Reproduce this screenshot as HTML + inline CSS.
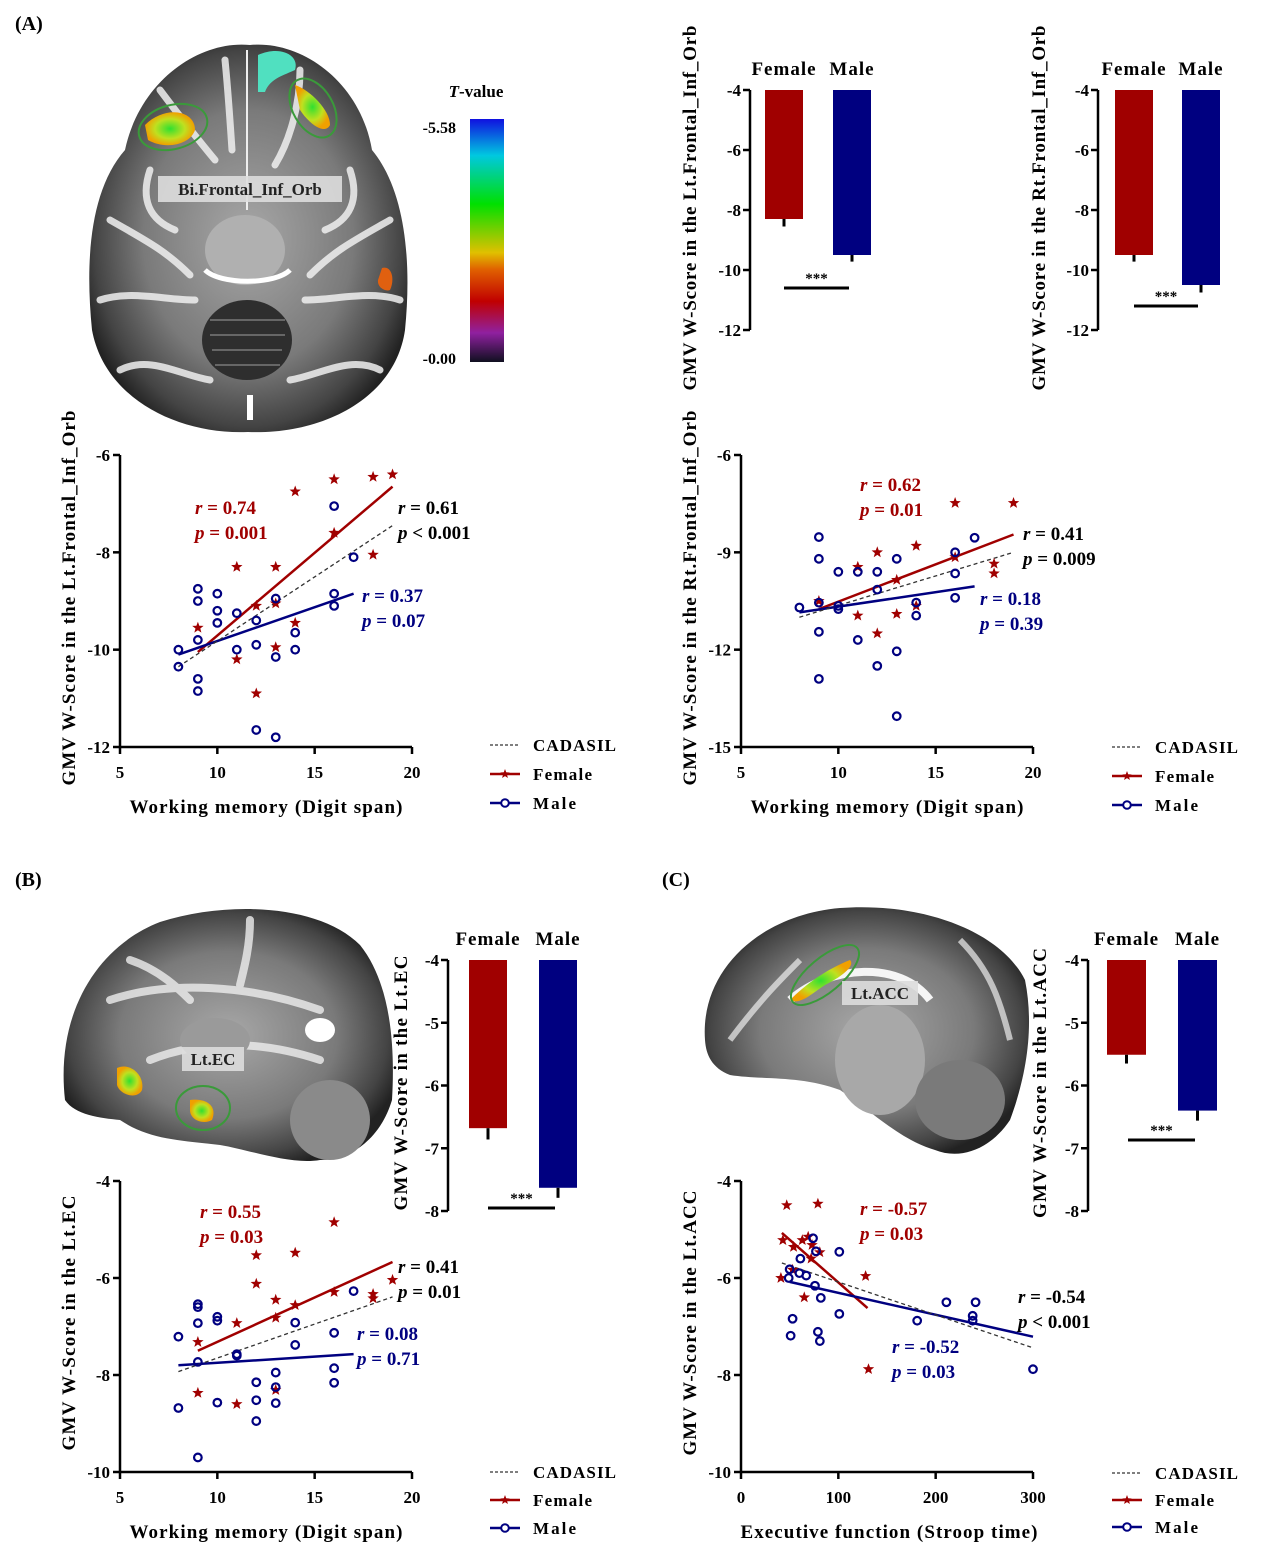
<!DOCTYPE html>
<html><head><meta charset="utf-8"><style>
html,body{margin:0;padding:0;background:#fff;}
svg{display:block;font-family:"Liberation Serif",serif;}
svg text{font-weight:bold;}
</style></head><body>
<svg id="fig" width="1265" height="1567" viewBox="0 0 1265 1567" xmlns="http://www.w3.org/2000/svg">
<defs>
<radialGradient id="brainG" cx="50%" cy="50%" r="55%"><stop offset="0" stop-color="#a8a8a8"/><stop offset="0.6" stop-color="#7a7a7a"/><stop offset="0.88" stop-color="#444"/><stop offset="1" stop-color="#222"/></radialGradient>
<linearGradient id="cbar" x1="0" y1="0" x2="0" y2="1"><stop offset="0" stop-color="#1010e0"/><stop offset="0.15" stop-color="#00c8e0"/><stop offset="0.35" stop-color="#00e000"/><stop offset="0.55" stop-color="#e0c000"/><stop offset="0.62" stop-color="#e06000"/><stop offset="0.75" stop-color="#c00000"/><stop offset="0.88" stop-color="#9020a0"/><stop offset="1" stop-color="#101020"/></linearGradient>
<radialGradient id="blob" cx="50%" cy="50%" r="50%"><stop offset="0" stop-color="#30e030"/><stop offset="0.6" stop-color="#c0e020"/><stop offset="1" stop-color="#f0a000"/></radialGradient>
</defs>
<g font-size="20">
<text x="15" y="30">(A)</text>
<text x="15" y="886">(B)</text>
<text x="662" y="886">(C)</text>
</g>
<!-- Axial brain -->
<g>
<path d="M250,45 C200,40 140,80 125,150 C90,190 85,260 92,330 C105,400 180,435 248,432 C320,435 395,400 405,330 C412,260 405,190 372,150 C360,80 300,40 250,45Z" fill="url(#brainG)"/>
<g fill="none" stroke="#f0f0f0" stroke-width="7" stroke-linecap="round" opacity="0.85">
<path d="M160,90 C175,110 190,130 215,160"/><path d="M300,70 C300,105 290,140 275,165"/><path d="M225,60 C228,90 230,120 232,150"/>
<path d="M110,220 C145,240 165,250 190,275"/><path d="M390,220 C355,240 335,250 310,275"/>
<path d="M100,300 C130,290 165,300 195,300"/><path d="M400,300 C370,290 335,300 305,300"/>
<path d="M120,370 C150,355 180,375 210,380"/><path d="M380,370 C350,355 320,375 290,380"/>
<path d="M150,170 C140,200 150,220 175,230"/><path d="M350,170 C360,200 350,220 325,230"/>
</g>
<line x1="247" y1="50" x2="247" y2="210" stroke="#eee" stroke-width="2"/>
<ellipse cx="245" cy="250" rx="40" ry="35" fill="#b0b0b0"/>
<path d="M205,270 C220,285 275,285 290,270" fill="none" stroke="#fff" stroke-width="5"/>
<ellipse cx="247" cy="340" rx="45" ry="40" fill="#2e2e2e"/>
<g stroke="#666" stroke-width="2" fill="none"><path d="M210,320 h75"/><path d="M210,335 h75"/><path d="M212,350 h70"/><path d="M215,365 h65"/></g>
<path d="M250,395 L250,420" stroke="#fff" stroke-width="6"/>
<path d="M145,125 C165,105 195,110 195,130 C190,145 165,150 148,140Z" fill="url(#blob)"/>
<path d="M258,55 C280,45 300,55 295,70 C285,75 270,78 265,92 L258,92Z" fill="#50e0c0"/>
<path d="M295,85 C310,90 330,110 330,125 C325,135 310,125 300,110Z" fill="url(#blob)"/>
<path d="M382,268 C392,265 395,280 390,290 C385,292 377,287 378,280Z" fill="#e06010"/>
<ellipse cx="173" cy="127" rx="35" ry="22" fill="none" stroke="#3a9a3a" stroke-width="2" transform="rotate(-15 173 127)"/>
<ellipse cx="313" cy="108" rx="20" ry="32" fill="none" stroke="#3a9a3a" stroke-width="2" transform="rotate(-30 313 108)"/>
<rect x="158" y="176" width="184" height="26" fill="#ddd" opacity="0.9"/>
<text x="250" y="195" text-anchor="middle" font-size="17" fill="#222">Bi.Frontal_Inf_Orb</text>
</g>
<g>
<rect x="470" y="119" width="34" height="243" fill="url(#cbar)"/>
<text x="476" y="97" font-size="17" text-anchor="middle"><tspan font-style="italic">T</tspan>-value</text>
<text x="456" y="133" font-size="16" text-anchor="end">-5.58</text>
<text x="456" y="364" font-size="16" text-anchor="end">-0.00</text>
</g>
<!-- Sagittal B -->
<g>
<path d="M65,1100 C55,1010 100,945 160,922 C230,900 320,905 360,945 C392,985 395,1050 392,1100 C380,1140 350,1160 320,1160 C290,1165 250,1150 220,1145 C180,1140 150,1140 120,1120 C100,1118 75,1115 65,1100Z" fill="url(#brainG)"/>
<ellipse cx="330" cy="1120" rx="40" ry="40" fill="#8a8a8a"/>
<g fill="none" stroke="#eee" stroke-width="8" stroke-linecap="round" opacity="0.8"><path d="M110,1000 C170,980 250,985 320,1010"/><path d="M150,1060 C200,1040 260,1040 320,1060"/><path d="M130,960 C160,970 180,990 190,1000"/><path d="M250,920 C250,945 245,965 240,985"/></g>
<ellipse cx="215" cy="1040" rx="35" ry="22" fill="#9a9a9a"/>
<ellipse cx="320" cy="1030" rx="15" ry="12" fill="#fff"/>
<path d="M117,1068 C130,1062 145,1075 142,1090 C137,1100 120,1095 117,1085Z" fill="url(#blob)"/>
<path d="M190,1100 C205,1098 218,1105 212,1120 C203,1125 190,1120 190,1110Z" fill="url(#blob)"/>
<ellipse cx="203" cy="1108" rx="27" ry="22" fill="none" stroke="#3a9a3a" stroke-width="2"/>
<rect x="182" y="1047" width="62" height="24" fill="#ddd" opacity="0.9"/>
<text x="213" y="1065" text-anchor="middle" font-size="17" fill="#222">Lt.EC</text>
</g>
<!-- Sagittal C -->
<g>
<path d="M705,1040 C700,970 760,915 840,908 C920,902 1000,930 1025,980 C1035,1030 1025,1080 1010,1120 C990,1150 960,1160 935,1150 C900,1140 870,1110 840,1090 C800,1075 760,1080 730,1075 C712,1068 706,1055 705,1040Z" fill="url(#brainG)"/>
<path d="M790,1000 C830,965 900,960 930,1000" fill="none" stroke="#f5f5f5" stroke-width="8"/>
<g fill="none" stroke="#eee" stroke-width="6" opacity="0.7"><path d="M730,1040 C760,1000 780,980 800,960"/><path d="M960,940 C990,970 1000,1000 1010,1040"/></g>
<ellipse cx="880" cy="1060" rx="45" ry="55" fill="#a8a8a8"/>
<ellipse cx="960" cy="1100" rx="45" ry="40" fill="#7a7a7a"/>
<path d="M790,1000 C805,985 825,970 850,960 C855,965 845,975 825,985 C810,995 800,1005 790,1000Z" fill="url(#blob)"/>
<ellipse cx="825" cy="975" rx="17" ry="42" fill="none" stroke="#3a9a3a" stroke-width="2" transform="rotate(50 825 975)"/>
<rect x="842" y="981" width="76" height="24" fill="#ddd" opacity="0.9"/>
<text x="880" y="999" text-anchor="middle" font-size="17" fill="#222">Lt.ACC</text>
</g>
<g id="charts"></g>
</svg>
<script>
// ===== Data =====
const groups = ["Female","Male"];
const barA1 = [-8.3,-9.5], errA1 = [0.25,0.22];
const barA2 = [-9.5,-10.5], errA2 = [0.22,0.25];
const barB = [-6.68,-7.63], errB = [0.18,0.16];
const barC = [-5.51,-6.4], errC = [0.14,0.16];

const s1FemX = [16,18,19,14,16,18,11,13,12,13,14,9,13,11,12];
const s1FemY = [-6.5,-6.45,-6.4,-6.75,-7.6,-8.05,-8.3,-8.3,-9.1,-9.05,-9.45,-9.55,-9.95,-10.2,-10.9];
const s1MalX = [16,17,9,9,10,10,10,11,12,13,16,16,14,14,9,8,8,11,12,13,9,9,12,13];
const s1MalY = [-7.05,-8.1,-8.75,-9.0,-8.85,-9.2,-9.45,-9.25,-9.4,-8.95,-8.85,-9.1,-9.65,-10.0,-9.8,-10.0,-10.35,-10.0,-9.9,-10.15,-10.6,-10.85,-11.65,-11.8];
const s1Lines = {fem:[9,-10.05,19,-6.65], mal:[8,-10.1,17,-8.85], all:[8,-10.35,19,-7.45]};

const s2FemX = [16,19,9,11,12,14,13,16,18,18,11,13,14,12];
const s2FemY = [-7.48,-7.48,-10.5,-9.45,-9.0,-8.8,-9.85,-9.15,-9.35,-9.65,-10.95,-10.9,-10.65,-11.5];
const s2MalX = [9,9,10,11,12,13,12,17,16,16,16,14,14,8,9,10,10,9,11,13,12,9,13];
const s2MalY = [-8.53,-9.2,-9.6,-9.6,-9.6,-9.2,-10.15,-8.55,-9.0,-9.65,-10.4,-10.55,-10.95,-10.7,-10.55,-10.65,-10.75,-11.45,-11.7,-12.05,-12.5,-12.9,-14.05];
const s2Lines = {fem:[9,-10.75,19,-8.45], mal:[8,-10.85,17,-10.05], all:[8,-11.0,19,-9.0]};

const s3FemX = [16,12,14,12,13,14,13,11,16,18,18,19,9,9,11,13];
const s3FemY = [-4.85,-5.53,-5.48,-6.12,-6.45,-6.56,-6.82,-6.93,-6.29,-6.33,-6.42,-6.04,-7.32,-8.37,-8.6,-8.31];
const s3MalX = [9,9,9,10,10,8,9,11,11,14,14,16,17,16,16,13,13,13,12,12,12,10,8,9];
const s3MalY = [-6.54,-6.6,-6.93,-6.8,-6.88,-7.21,-7.73,-7.57,-7.6,-6.92,-7.38,-7.13,-6.27,-7.86,-8.16,-7.95,-8.25,-8.58,-8.15,-8.52,-8.95,-8.57,-8.68,-9.7];
const s3Lines = {fem:[9,-7.5,19,-5.67], mal:[8,-7.8,17,-7.57], all:[8,-7.93,19,-6.39]};

const s4FemX = [47,79,43,54,63,69,73,81,72,53,41,128,65,131];
const s4FemY = [-4.5,-4.47,-5.22,-5.36,-5.22,-5.15,-5.32,-5.47,-5.6,-5.83,-6.0,-5.96,-6.4,-7.88];
const s4MalX = [74,77,101,61,50,60,67,49,76,82,101,53,51,79,81,181,211,241,238,238,300];
const s4MalY = [-5.18,-5.45,-5.46,-5.6,-5.82,-5.9,-5.95,-6.0,-6.16,-6.41,-6.74,-6.84,-7.19,-7.11,-7.3,-6.88,-6.5,-6.5,-6.78,-6.88,-7.88];
const s4Lines = {fem:[42,-5.07,130,-6.62], mal:[50,-6.08,300,-7.21], all:[42,-5.69,300,-7.44]};

const xTicksDigit = [5,10,15,20];
const xTicksStroop = [0,100,200,300];
const yTicks1 = [-6,-8,-10,-12];
const yTicks2 = [-6,-9,-12,-15];
const yTicks3 = [-4,-6,-8,-10];
const barTicksA = [-4,-6,-8,-10,-12];
const barTicksBC = [-4,-5,-6,-7,-8];

// ===== Drawing =====
const NS = "http://www.w3.org/2000/svg";
const root = document.getElementById("charts");
function mk(tag, attrs, parent, text){
  const e = document.createElementNS(NS, tag);
  for (const k in attrs) e.setAttribute(k, attrs[k]);
  if (text !== undefined) e.textContent = text;
  (parent||root).appendChild(e);
  return e;
}
const RED = "#a00000", BLUE = "#000080";
function starPath(cx, cy, r){
  let d = "";
  for (let i=0;i<10;i++){
    const a = -Math.PI/2 + i*Math.PI/5;
    const rr = i%2===0 ? r : r*0.42;
    d += (i===0?"M":"L") + (cx+rr*Math.cos(a)).toFixed(1) + "," + (cy+rr*Math.sin(a)).toFixed(1);
  }
  return d+"Z";
}

function scatter(o){
  const g = mk("g", {});
  
  
  const sx = v => o.x0 + (v - o.xmin)/(o.xmax - o.xmin)*(o.x1 - o.x0);
  const sy = v => o.y0 + (o.ymax - v)/(o.ymax - o.ymin)*(o.y1 - o.y0);
  const ax = mk("path", {d:`M${o.x0},${o.y0} V${o.y1} H${o.x1}`, fill:"none", stroke:"#000", "stroke-width":2.5}, g);
  
  
  o.yt.forEach(t => {
    const y = sy(t);
    mk("line", {x1:o.x0-7, x2:o.x0, y1:y, y2:y, stroke:"#000","stroke-width":2.5}, g);
    const tl = mk("text", {x:o.x0-10, y:y+6, "text-anchor":"end","font-size":17}, g, String(t));
    
    
  });
  o.xt.forEach(t => {
    const x = sx(t);
    mk("line", {x1:x, x2:x, y1:o.y1, y2:o.y1+7, stroke:"#000","stroke-width":2.5}, g);
    const tl = mk("text", {x:x, y:o.y1+31, "text-anchor":"middle","font-size":17}, g, String(t));
    
    
  });
  const xl = mk("text", {x:(o.x0+o.x1)/2 + o.xlOff, y:o.y1+66, "text-anchor":"middle","font-size":19, textLength:o.xlLen, lengthAdjust:"spacing"}, g, o.xlabel);
  
  
  const ylx = o.ylx, yly = o.yly;
  const yl = mk("text", {x:ylx, y:yly, "text-anchor":"middle","font-size":19, textLength:o.ylLen, lengthAdjust:"spacing", transform:`rotate(-90 ${ylx} ${yly})`}, g, o.ylabel);
  
  
  const L = o.lines;
  const lf = mk("line", {x1:sx(L.fem[0]), y1:sy(L.fem[1]), x2:sx(L.fem[2]), y2:sy(L.fem[3]), stroke:RED, "stroke-width":2.5}, g);
  
  
  const lm = mk("line", {x1:sx(L.mal[0]), y1:sy(L.mal[1]), x2:sx(L.mal[2]), y2:sy(L.mal[3]), stroke:BLUE, "stroke-width":2.5}, g);
  
  
  const la = mk("line", {x1:sx(L.all[0]), y1:sy(L.all[1]), x2:sx(L.all[2]), y2:sy(L.all[3]), stroke:"#333", "stroke-width":1.3, "stroke-dasharray":"4,3"}, g);
  
  
  o.fx.forEach((v,i) => {
    const p = mk("path", {d:starPath(sx(v), sy(o.fy[i]), 6), fill:RED}, g);
    
    
  });
  o.mx.forEach((v,i) => {
    const c = mk("circle", {cx:sx(v), cy:sy(o.my[i]), r:3.8, fill:"none", stroke:BLUE, "stroke-width":2.2}, g);
    
    
  });
  o.stats.forEach(s => {
    const t = mk("text", {x:s[0], y:s[1], "font-size":19, fill:s[2]}, g);
    
    
    mk("tspan", {"font-style":"italic"}, t, s[3]);
    mk("tspan", {}, t, s[4]);
  });
  const lg = mk("g", {}, g);
  
  
  const [lx, ly, dy] = o.leg;
  mk("line", {x1:lx, x2:lx+30, y1:ly, y2:ly, stroke:"#333","stroke-width":1.3,"stroke-dasharray":"3,2"}, lg);
  const t1 = mk("text", {x:lx+43, y:ly+6, "font-size":17, textLength:83, lengthAdjust:"spacing"}, lg, "CADASIL");
  
  
  mk("line", {x1:lx, x2:lx+30, y1:ly+dy, y2:ly+dy, stroke:RED,"stroke-width":2.5}, lg);
  mk("path", {d:starPath(lx+15, ly+dy, 5), fill:RED}, lg);
  const t2 = mk("text", {x:lx+43, y:ly+dy+6, "font-size":17, textLength:59, lengthAdjust:"spacing"}, lg, "Female");
  
  
  mk("line", {x1:lx, x2:lx+30, y1:ly+2*dy, y2:ly+2*dy, stroke:BLUE,"stroke-width":2.5}, lg);
  mk("circle", {cx:lx+15, cy:ly+2*dy, r:3.8, fill:"#fff", stroke:BLUE,"stroke-width":2}, lg);
  const t3 = mk("text", {x:lx+43, y:ly+2*dy+6, "font-size":17, textLength:43, lengthAdjust:"spacing"}, lg, "Male");
  
  
}

function bars(o){
  const g = mk("g", {});
  
  
  const sy = v => o.y0 + (o.ymax - v)/(o.ymax - o.ymin)*(o.y1 - o.y0);
  mk("line", {x1:o.ax, x2:o.ax, y1:o.y0, y2:o.y1, stroke:"#000","stroke-width":2.5}, g);
  o.ticks.forEach(t => {
    const y = sy(t);
    mk("line", {x1:o.ax-7, x2:o.ax, y1:y, y2:y, stroke:"#000","stroke-width":2.5}, g);
    const tl = mk("text", {x:o.ax-9, y:y+6, "text-anchor":"end","font-size":17}, g, String(t));
    
    
  });
  const cols = [RED, BLUE];
  o.vals.forEach((v,i) => {
    const x = o.bx[i];
    const b = mk("rect", {x:x, y:sy(o.ymax), width:o.bw, height:sy(v)-sy(o.ymax), fill:cols[i]}, g);
    
    
    mk("line", {x1:x+o.bw/2, x2:x+o.bw/2, y1:sy(v), y2:sy(v - o.err[i]), stroke:"#000","stroke-width":3}, g);
    const gl = mk("text", {x:x+o.bw/2, y:o.labY, "text-anchor":"middle","font-size":19, "letter-spacing":"1"}, g, groups[i]);
    
    
  });
  const [s1, s2, sY] = o.sig;
  mk("line", {x1:s1, x2:s2, y1:sY, y2:sY, stroke:"#000","stroke-width":3}, g);
  const st = mk("text", {x:(s1+s2)/2, y:sY-5, "text-anchor":"middle","font-size":15}, g, "***");
  
  
  const ylx = o.ylx, yly = o.yly;
  const yl = mk("text", {x:ylx, y:yly, "text-anchor":"middle","font-size":19, textLength:o.ylLen, lengthAdjust:"spacing", transform:`rotate(-90 ${ylx} ${yly})`}, g, o.ylabel);
  
  
}

bars({name:"bar-chart-lt-frontal", ax:750, y0:90, y1:330, ymin:-12, ymax:-4, ticks:barTicksA, vals:barA1, err:errA1, bx:[765,833], bw:38, labY:75, sig:[784,849,288], ylx:696, yly:208, ylLen:365, ylabel:"GMV W-Score in the Lt.Frontal_Inf_Orb"});
bars({name:"bar-chart-rt-frontal", ax:1098, y0:90, y1:330, ymin:-12, ymax:-4, ticks:barTicksA, vals:barA2, err:errA2, bx:[1115,1182], bw:38, labY:75, sig:[1134,1198,306], ylx:1045, yly:208, ylLen:365, ylabel:"GMV W-Score in the Rt.Frontal_Inf_Orb"});
bars({name:"bar-chart-lt-ec", ax:448, y0:960, y1:1211, ymin:-8, ymax:-4, ticks:barTicksBC, vals:barB, err:errB, bx:[469,539], bw:38, labY:945, sig:[488,555,1208], ylx:407, yly:1083, ylLen:255, ylabel:"GMV W-Score in the Lt.EC"});
bars({name:"bar-chart-lt-acc", ax:1088, y0:960, y1:1211, ymin:-8, ymax:-4, ticks:barTicksBC, vals:barC, err:errC, bx:[1107,1178], bw:39, labY:945, sig:[1128,1195,1140], ylx:1046, yly:1083, ylLen:270, ylabel:"GMV W-Score in the Lt.ACC"});

scatter({name:"scatter-lt-frontal", x0:120, x1:412, y0:455, y1:747, xmin:5, xmax:20, ymin:-12, ymax:-6, xt:xTicksDigit, yt:yTicks1,
  fx:s1FemX, fy:s1FemY, mx:s1MalX, my:s1MalY, lines:s1Lines, xlabel:"Working memory (Digit span)", xlLen:273, xlOff:0, ylabel:"GMV W-Score in the Lt.Frontal_Inf_Orb", ylx:75, yly:598, ylLen:375,
  stats:[[195,514,RED,"r"," = 0.74"],[195,539,RED,"p"," = 0.001"],[398,514,"#000","r"," = 0.61"],[398,539,"#000","p"," < 0.001"],[362,602,BLUE,"r"," = 0.37"],[362,627,BLUE,"p"," = 0.07"]], leg:[490,745,29]});
scatter({name:"scatter-rt-frontal", x0:741, x1:1033, y0:455, y1:747, xmin:5, xmax:20, ymin:-15, ymax:-6, xt:xTicksDigit, yt:yTicks2,
  fx:s2FemX, fy:s2FemY, mx:s2MalX, my:s2MalY, lines:s2Lines, xlabel:"Working memory (Digit span)", xlLen:273, xlOff:0, ylabel:"GMV W-Score in the Rt.Frontal_Inf_Orb", ylx:696, yly:598, ylLen:375,
  stats:[[860,491,RED,"r"," = 0.62"],[860,516,RED,"p"," = 0.01"],[1023,540,"#000","r"," = 0.41"],[1023,565,"#000","p"," = 0.009"],[980,605,BLUE,"r"," = 0.18"],[980,630,BLUE,"p"," = 0.39"]], leg:[1112,747,29]});
scatter({name:"scatter-lt-ec", x0:120, x1:412, y0:1181, y1:1472, xmin:5, xmax:20, ymin:-10, ymax:-4, xt:xTicksDigit, yt:yTicks3,
  fx:s3FemX, fy:s3FemY, mx:s3MalX, my:s3MalY, lines:s3Lines, xlabel:"Working memory (Digit span)", xlLen:273, xlOff:0, ylabel:"GMV W-Score in the Lt.EC", ylx:75, yly:1323, ylLen:255,
  stats:[[200,1218,RED,"r"," = 0.55"],[200,1243,RED,"p"," = 0.03"],[398,1273,"#000","r"," = 0.41"],[398,1298,"#000","p"," = 0.01"],[357,1340,BLUE,"r"," = 0.08"],[357,1365,BLUE,"p"," = 0.71"]], leg:[490,1472,28]});
scatter({name:"scatter-lt-acc", x0:741, x1:1033, y0:1181, y1:1472, xmin:0, xmax:300, ymin:-10, ymax:-4, xt:xTicksStroop, yt:yTicks3,
  fx:s4FemX, fy:s4FemY, mx:s4MalX, my:s4MalY, lines:s4Lines, xlabel:"Executive function (Stroop time)", xlLen:297, xlOff:2, ylabel:"GMV W-Score in the Lt.ACC", ylx:696, yly:1323, ylLen:265,
  stats:[[860,1215,RED,"r"," = -0.57"],[860,1240,RED,"p"," = 0.03"],[1018,1303,"#000","r"," = -0.54"],[1018,1328,"#000","p"," < 0.001"],[892,1353,BLUE,"r"," = -0.52"],[892,1378,BLUE,"p"," = 0.03"]], leg:[1112,1473,27]});
</script>
</body></html>
